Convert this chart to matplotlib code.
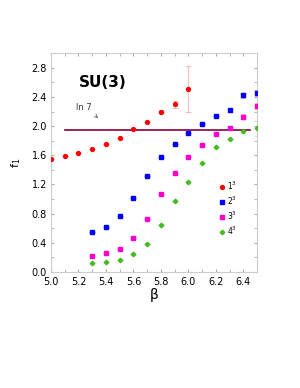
import numpy as np
import matplotlib
matplotlib.use("Agg")
import matplotlib.pyplot as plt
from matplotlib.ticker import MultipleLocator

# beta grid for the four lattice sizes
beta_1 = [5.0, 5.1, 5.2, 5.3, 5.4, 5.5, 5.6, 5.7, 5.8, 5.9, 6.0]
f1_1 = [1.55, 1.59, 1.63, 1.69, 1.76, 1.84, 1.96, 2.06, 2.20, 2.30, 2.51]
err_1 = [0, 0, 0, 0, 0, 0, 0, 0, 0.02, 0.05, 0.31]

beta_n = [5.3, 5.4, 5.5, 5.6, 5.7, 5.8, 5.9, 6.0, 6.1, 6.2, 6.3, 6.4, 6.5]
f1_2 = [0.545, 0.62, 0.77, 1.01, 1.32, 1.57, 1.76, 1.90, 2.03, 2.14, 2.22, 2.42, 2.45]
err_2 = [0, 0, 0, 0, 0, 0, 0, 0, 0, 0, 0.02, 0.04, 0.04]
f1_3 = [0.225, 0.26, 0.32, 0.46, 0.72, 1.07, 1.36, 1.57, 1.74, 1.89, 1.97, 2.13, 2.28]
err_3 = [0, 0, 0, 0, 0, 0, 0, 0, 0, 0, 0.02, 0.03, 0.04]
f1_4 = [0.12, 0.14, 0.17, 0.24, 0.39, 0.64, 0.97, 1.24, 1.50, 1.71, 1.82, 1.93, 1.97]
err_4 = [0, 0, 0, 0, 0, 0, 0, 0, 0, 0, 0, 0.03, 0.10]

labels = ["$1^3$", "$2^3$", "$3^3$", "$4^3$"]
colors = ["#ff0000", "#0000ff", "#ff00cc", "#44bb22"]
markers = ["o", "s", "s", "D"]

ln7 = np.log(7)
line_range = [5.1, 6.45]

fig = plt.figure(figsize=(3.0, 3.88), dpi=100)
ax = fig.add_axes([0.17, 0.299, 0.687, 0.564])

series = [(beta_1, f1_1, err_1), (beta_n, f1_2, err_2), (beta_n, f1_3, err_3), (beta_n, f1_4, err_4)]
for (x, y, e), lab, c, m in zip(series, labels, colors, markers):
    ax.errorbar(x, y, yerr=e, fmt="none", ecolor=c, alpha=0.25, elinewidth=0.8, capsize=2, capthick=0.8)
    ax.plot(x, y, linestyle="none", marker=m, color=c, markersize=2.8 if m != "D" else 2.3,
            label=lab, zorder=3)

ax.plot(line_range, [ln7, ln7], color="#800040", linewidth=1.2, zorder=2)

ax.text(5.2, 2.6, "SU(3)", fontsize=11, fontweight="bold", va="center")
ax.annotate("ln 7", xy=(5.36, 2.09), xytext=(5.18, 2.26), fontsize=6, color="#333333",
            va="center", arrowprops=dict(arrowstyle="->", color="#555555", lw=0.5))

ax.set_xlim(5.0, 6.5)
ax.set_ylim(0.0, 3.0)
ax.xaxis.set_major_locator(MultipleLocator(0.2))
ax.xaxis.set_minor_locator(MultipleLocator(0.1))
ax.yaxis.set_minor_locator(MultipleLocator(0.2))
ax.set_yticks(np.arange(0, 2.81, 0.4))
ax.tick_params(which="both", direction="in", top=True, right=True, labelsize=7,
               color="#aaaaaa", length=2.5)
ax.tick_params(axis="x", pad=3.5)
ax.tick_params(axis="y", pad=3)
for s in ax.spines.values():
    s.set_color("#cccccc")
    s.set_linewidth(0.8)

ax.set_xlabel("β", fontsize=10, labelpad=1)
ax.set_ylabel("$\\mathrm{f_1}$", fontsize=8, labelpad=6)

ax.legend(loc="upper left", bbox_to_anchor=(0.8, 0.44), frameon=False, fontsize=5.5,
          handlelength=0.6, handletextpad=0.3, labelspacing=0.35, borderpad=0)

fig.savefig("out.png", dpi=100)
